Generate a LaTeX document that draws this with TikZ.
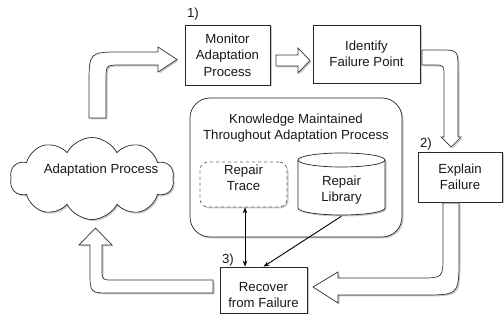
\documentclass[tikz,border=0pt]{standalone}
\usepackage{fontspec}
\setmainfont{Liberation Sans}
\usetikzlibrary{shapes.symbols,shadows,arrows.meta}
\newcommand{\fs}{\fontsize{13.2}{16.5}\selectfont}
\begin{document}
\begin{tikzpicture}[x=1pt,y=-1pt,
  shadowed/.style={drop shadow={shadow xshift=1.5pt,shadow yshift=-1.5pt,opacity=0.35,fill=black!60}},
  box/.style={draw=black!85, line width=0.7pt, fill=white, shadowed, align=center, font=\fs, inner sep=0pt, text=black!90},
  txt/.style={align=center, font=\fs, inner sep=0pt, text=black!90},
  blockarrow/.style={draw=black!80, line width=0.7pt, fill=white, line join=miter, shadowed},
  thin/.style={draw=black, line width=0.9pt, -{Stealth[length=6pt,width=4.5pt]}}
]
\useasboundingbox (0,0) rectangle (504,323);

% cloud
\node[cloud, cloud puffs=10, cloud puff arc=125, draw=black!85, line width=0.7pt, fill=white, shadowed,
      minimum width=164pt, minimum height=82pt, inner sep=0pt] (cloud) at (92,178.5) {};
\node[txt] (cloudtxt) at (101,170) {Adaptation Process};

% boxes
\node[box, minimum width=85pt, minimum height=60pt] (monitor) at (227.5,55) {Monitor\\Adaptation\\Process};
\node[box, minimum width=107pt, minimum height=58pt] (identify) at (366.5,54) {Identify\\Failure Point};
\node[box, minimum width=84pt, minimum height=50pt] (explain) at (460,177) {Explain\\Failure};
\node[box, minimum width=87pt, minimum height=46pt] (recover) at (263.5,290) {};
\node[txt] (recovertxt) at (263.5,295) {Recover\\from Failure};

% knowledge container
\node[draw=black!85, line width=0.7pt, fill=white, shadowed, rounded corners=20pt,
      minimum width=212pt, minimum height=139pt] (know) at (296,167.5) {};
\node[txt] (knowtxt) at (296,128) {Knowledge Maintained\\Throughout Adaptation Process};

% repair trace
\node[draw=black!60, dashed, line width=0.7pt, fill=white, rounded corners=8pt, shadowed,
      minimum width=87pt, minimum height=45pt] (trace) at (243.5,184.5) {};
\node[txt] (tracetxt) at (243.5,178) {Repair\\Trace};

% repair library (cylinder)
\node[minimum width=87pt, minimum height=62pt, inner sep=0pt] (lib) at (341.5,184) {};
\fill[black!60, opacity=0.35, xshift=1.5pt, yshift=-1.5pt]
  (298,160) -- (298,208) arc[start angle=180, end angle=360, x radius=43.5pt, y radius=7pt]
  -- (385,160) arc[start angle=0, end angle=180, x radius=43.5pt, y radius=7pt] -- cycle;
\filldraw[draw=black!85, line width=0.7pt, fill=white]
  (298,160) -- (298,208) arc[start angle=180, end angle=360, x radius=43.5pt, y radius=7pt]
  -- (385,160) arc[start angle=0, end angle=180, x radius=43.5pt, y radius=7pt] -- cycle;
\draw[draw=black!85, line width=0.7pt] (298,160) arc[start angle=180, end angle=360, x radius=43.5pt, y radius=7pt];
\node[txt] (libtxt) at (341.5,190) {Repair\\Library};

% step labels
\node[txt] (l1) at (193,14) {1)};
\node[txt] (l2) at (426,144) {2)};
\node[txt] (l3) at (228,260) {3)};

% block arrows
\path[blockarrow] (89,118) -- (89,85) .. controls (89,52) .. (122,52) -- (158,52) -- (158,47) -- (177,59.5)
  -- (158,72) -- (158,65) -- (121,65) .. controls (106,65) .. (106,80) -- (106,118) -- cycle;
\path[blockarrow] (276,55) -- (298,55) -- (298,48) -- (310,60.5) -- (298,73) -- (298,66) -- (276,66) -- cycle;
\path[blockarrow] (422,50) -- (440,50) .. controls (458,50) .. (458,70) -- (458,137) -- (461,137) -- (451,147)
  -- (441,137) -- (444,137) -- (444,76) .. controls (444,65) .. (433,65) -- (422,65) -- cycle;
\path[blockarrow] (443,203) -- (459,203) -- (459,258) .. controls (459,295) .. (422,295) -- (338,295)
  -- (338,303) -- (313,287) -- (338,272) -- (338,278) -- (420,278) .. controls (443,278) .. (443,255) -- cycle;
\path[blockarrow] (213,280) -- (113,280) .. controls (102,280) .. (102,269) -- (102,245) -- (112,245)
  -- (95.5,228) -- (79,245) -- (90,245) -- (90,272) .. controls (90,293) .. (111,293) -- (213,293) -- cycle;

% thin arrows
\draw[thin, {Stealth[length=6pt,width=4.5pt]}-{Stealth[length=6pt,width=4.5pt]}] ([xshift=1.5pt]trace.south) -- ([xshift=1.5pt]trace.south |- recover.north);
\draw[thin] ([yshift=-1pt]lib.south) -- (recover.north);
\end{tikzpicture}
\end{document}
